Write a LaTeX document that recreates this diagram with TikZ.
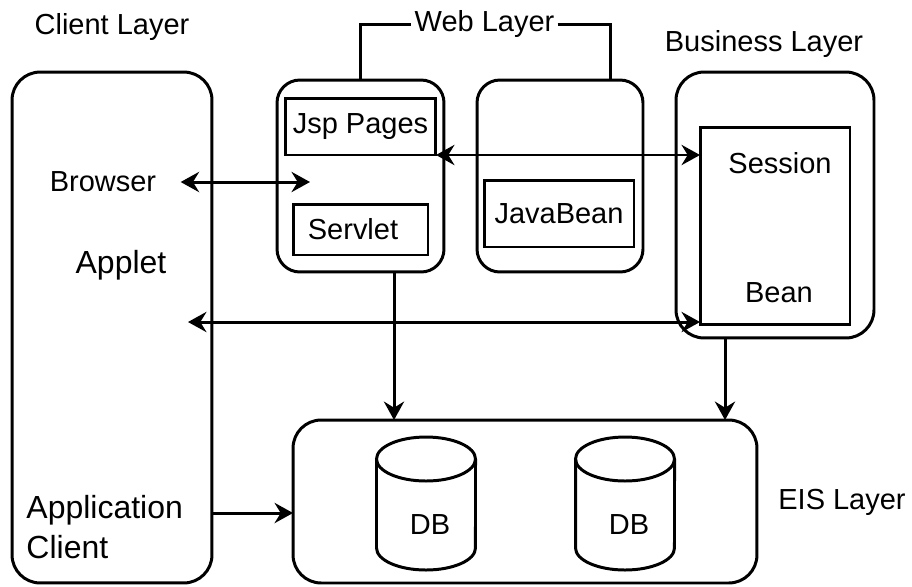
\documentclass[tikz,border=0pt]{standalone}
\usepackage{fontspec}
\setmainfont{Liberation Sans}
\usetikzlibrary{arrows.meta}

\begin{document}
\begin{tikzpicture}[x=0.02cm,y=-0.02cm,line width=1.7pt,
            >={Stealth[length=10.5pt,width=11.5pt,inset=3.5pt]},
            every node/.style={font=\fontsize{16.5}{19}\selectfont},
            box/.style={draw,inner sep=0pt,outer sep=0pt},
            layer/.style={box,rounded corners=16pt},
            webbox/.style={box,rounded corners=13pt},
            big/.style={font=\fontsize{18.2}{22.8}\selectfont}]
            \useasboundingbox (0,0) rectangle (912,586);
            \node[layer,minimum width=4cm,minimum height=10.22cm] (client) at (112,327.5) {};
            \node[webbox,minimum width=3.34cm,minimum height=3.84cm] (web1) at (360.5,176) {};
            \node[webbox,minimum width=3.32cm,minimum height=3.84cm] (web2) at (560,176) {};
            \node[layer,minimum width=3.96cm,minimum height=5.32cm] (biz) at (775,205) {};
            \node[layer,minimum width=9.28cm,minimum height=3.26cm] (eis) at (525,501.5) {};
            \node[box,minimum width=3.02cm,minimum height=1.14cm] (jsp) at (360.5,126.5) {Jsp Pages};
            \node[box,minimum width=2.7cm,minimum height=1.02cm] (servlet) at (360.5,229.5) {\hspace*{-0.3cm}Servlet};
            \node[box,minimum width=3cm,minimum height=1.34cm] (javabean) at (559,213.5) {JavaBean};
            \node[box,minimum width=3cm,minimum height=3.96cm] (session) at (775,226) {};
            \node (sessionlbl) at (780,163) {Session};
            \node (beanlbl) at (779,293) {Bean};
            \node (clientlbl) at (112,27) {Client Layer};
            \node[inner sep=1pt] (weblbl) at (484.5,24) {Web Layer};
            \node (bizlbl) at (764,44) {Business Layer};
            \node (eislbl) at (842,502) {EIS Layer};
            \node[inner xsep=0.46cm] (browser) at (103,182) {Browser};
            \node[big] (applet) at (121,265) {Applet};
            \node[big,align=left,anchor=west,inner sep=0pt] (appclient) at (25,527) {Application\\Client};
            \foreach \x/\n in {426/dba,625/dbb} {
                \draw (\x-49.5,459) -- (\x-49.5,548) arc(180:360:0.99cm and 0.44cm) -- (\x+49.5,459);
                \draw (\x,459) ellipse[x radius=0.99cm,y radius=0.44cm];
                \node (\n) at (\x+4,525) {DB};
            }
            \coordinate (webup) at (610,80);
            \draw (web1.north) |- (weblbl.west);
            \draw (weblbl.east) -| (webup);
            \coordinate (brin) at (310,182);
            \draw[<->] (browser.east) -- (brin);
            \draw[<->] (jsp.south east) -- (jsp.south east -| session.west);
            \coordinate (appin) at (188,322);
            \draw[<->] (appin) -- (appin -| session.west);
            \coordinate (w1out) at (394,272);
            \draw[->] (w1out) -- (w1out |- eis.north);
            \coordinate (bout) at (725,338);
            \draw[->] (bout) -- (bout |- eis.north);
            \coordinate (acout) at (212,513);
            \draw[->] (acout) -- (acout -| eis.west);
        \end{tikzpicture}
\end{document}
